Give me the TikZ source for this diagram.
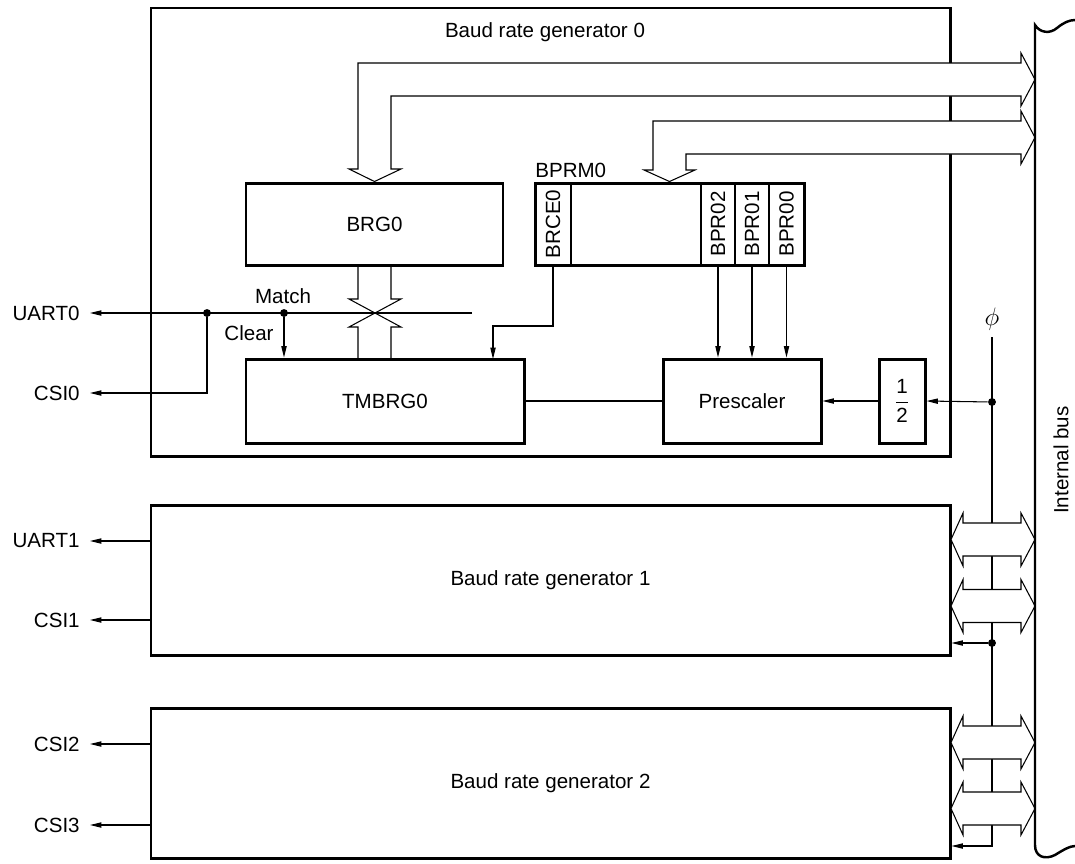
\documentclass[tikz,border=0pt]{standalone}
\usepackage{fontspec}
\setmainfont{Liberation Sans}
\usepackage{graphicx}
\usepackage{tikz}
\usetikzlibrary{arrows.meta,positioning,calc,fit}

\begin{document}
\begin{tikzpicture}[x=0.02cm,y=-0.02cm,
  every node/.style={font=\fontsize{11.7pt}{14pt}\selectfont},
  blk/.style={draw,line width=1.7pt,inner sep=0pt},
  cell/.style={draw,line width=0.6pt,inner sep=0pt},
  sig/.style={line width=0.6pt},
  arr/.style={sig,-{Triangle[length=6.5pt,width=3pt]}},
  hollow/.style={line width=0.6pt,fill=white},
  junc/.style={circle,fill,inner sep=0pt,minimum size=4.5pt},
  outlbl/.style={anchor=east,inner xsep=0.2cm}]
\useasboundingbox (0,0) rectangle (1075,863);

% generator 0
\node[blk,fit={(151,8) (950,456)}] (gen0) {};
\node (gen0lbl) at (545,32) {Baud rate generator 0};
\node[blk,fit={(246,183) (503,265)},label=center:BRG0] (brg) {};
\node[blk,fit={(246,359) (524,443)},label=center:TMBRG0] (tmbrg) {};
\node[blk,fit={(663,359) (821,443)},label=center:Prescaler] (pre) {};
\node[blk,fit={(879,359) (925,443)},
  label={center:$\displaystyle\frac{\mbox{1}}{\mbox{2}}$}] (half) {};
\node[cell,fit={(535,183) (571,265)},label={center:\rotatebox{90}{BRCE0}}] (brce) {};
\node[cell,fit={(701,183) (735,265)},label={center:\rotatebox{90}{BPR02}}] (bpr2) {};
\node[cell,fit={(735,183) (769,265)},label={center:\rotatebox{90}{BPR01}}] (bpr1) {};
\node[cell,fit={(769,183) (804,265)},label={center:\rotatebox{90}{BPR00}}] (bpr0) {};
\node[blk,fit={(535,183) (804,265)}] (bprm) {};
\node[anchor=south west,inner sep=0pt] (bprmlbl) at (535,178) {BPRM0};

% generators 1 and 2
\node[blk,fit={(151,505) (950,655)},label=center:Baud rate generator 1] (gen1) {};
\node[blk,fit={(151,708) (950,858)},label=center:Baud rate generator 2] (gen2) {};

% outputs
\node[outlbl] (uart0) at (90,313) {UART0};
\node[outlbl] (csi0) at (90,393) {CSI0};
\node[outlbl] (uart1) at (90,541) {UART1};
\node[outlbl] (csi1) at (90,620) {CSI1};
\node[outlbl] (csi2) at (90,744) {CSI2};
\node[outlbl] (csi3) at (90,825) {CSI3};

\coordinate (mend) at (472,313);
\node[junc] (split) at (207,313) {};
\node[junc] (match) at (284,313) {};
\node (matchlbl) at (283,296) {Match};
\node (clearlbl) at (249,333) {Clear};
\draw[arr] (mend) -- (uart0.east);
\draw[arr] (split) |- (csi0.east);
\draw[arr] (match) -- (match |- tmbrg.north);
\draw[arr] (gen1.west |- uart1) -- (uart1.east);
\draw[arr] (gen1.west |- csi1) -- (csi1.east);
\draw[arr] (gen2.west |- csi2) -- (csi2.east);
\draw[arr] (gen2.west |- csi3) -- (csi3.east);

% BRG0 <-> TMBRG0
\draw[sig] (358,265) -- (358,299) -- (349,299) -- (401,327) -- (391,327) -- (391,359);
\draw[sig] (391,265) -- (391,299) -- (401,299) -- (349,327) -- (358,327) -- (358,359);

\draw[arr] (brce.south) -- (553,326) -| (493,359);
\foreach \b in {bpr2,bpr1,bpr0}
  \draw[arr] (\b.south) -- (\b.south |- pre.north);
\draw[sig] (tmbrg.east) -- (pre.west);
\draw[arr] (half.west) -- (pre.east);

% clock
\node (phi) at (992,319) {\Large$\phi$};
\coordinate (ptop) at (992,337);
\coordinate (pbot) at (992,846);
\draw[arr] (ptop) -- (pbot) -- (pbot -| gen2.east);
\node[junc] (pdot0) at (992,402) {};
\node[junc] (pdot1) at (992,643) {};
\draw[arr] (pdot0) -- (half.east);
\draw[arr] (pdot1) -- (pdot1 -| gen1.east);

% bus arrows
\draw[hollow] (brg.north) -- (401,169) -- (391,169) -- (391,96) -- (1021,96) -- (1021,106)
  -- (1035,79.5) -- (1021,53) -- (1021,63) -- (358,63) -- (358,169) -- (349,169) -- cycle;
\draw[hollow] (bprm.north) -- (695,170) -- (686,170) -- (686,154) -- (1021,154) -- (1021,164)
  -- (1035,137.5) -- (1021,111) -- (1021,121) -- (653,121) -- (653,170) -- (644,170) -- cycle;
\foreach \yc in {539.5,606,742.5,808.5}
  \draw[hollow] (951,\yc) -- (963,\yc-26.5) -- (963,\yc-16.5) -- (1021,\yc-16.5) -- (1021,\yc-26.5)
    -- (1035,\yc) -- (1021,\yc+26.5) -- (1021,\yc+16.5) -- (963,\yc+16.5) -- (963,\yc+26.5) -- cycle;

% internal bus
\draw[line width=1.4pt] (1075,846) .. controls (1070,846) and (1063,850) .. (1055,855)
  .. controls (1045,860) and (1035,857) .. (1035,845) -- (1035,25)
  .. controls (1040,33) and (1050,34) .. (1057,28) .. controls (1063,23) and (1069,20) .. (1075,20);
\node[rotate=90] (buslbl) at (1061,460) {Internal bus};
\end{tikzpicture}
\end{document}
